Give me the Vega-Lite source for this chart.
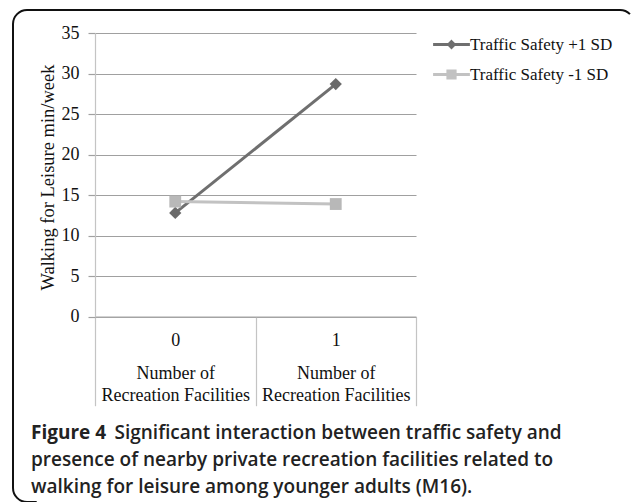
{
  "$schema": "https://vega.github.io/schema/vega-lite/v6.json",
  "autosize": {"type": "none"},
  "padding": {"left": 13, "top": 10, "right": 0, "bottom": 0},
  "width": 621,
  "height": 492,
  "background": "white",
  "view": {"stroke": "#111111", "strokeWidth": 2, "cornerRadius": 14, "fill": "white", "strokeDash": [604, 1080, 560]},
  "config": {
    "font": "Liberation Serif",
    "axis": {"labelFont": "Liberation Serif", "titleFont": "Liberation Serif", "labelColor": "#111111", "titleColor": "#111111", "titleFontWeight": "normal"},
    "legend": {"labelFont": "Liberation Serif", "labelFontSize": 17, "labelColor": "#111111"}
  },
  "title": {
    "text": "Figure 4",
    "subtitle": ["presence of nearby private recreation facilities related to", "walking for leisure among younger adults (M16)."],
    "orient": "top",
    "anchor": "start",
    "frame": "group",
    "font": "Open Sans",
    "fontSize": 19,
    "fontWeight": "bold",
    "color": "#222222",
    "subtitleFont": "Open Sans",
    "subtitleFontSize": 19,
    "subtitleFontWeight": 600,
    "subtitleColor": "#222222",
    "subtitleLineHeight": 27,
    "subtitlePadding": 8,
    "offset": 0,
    "dx": 18,
    "dy": 487
  },
  "data": {
    "values": [
      {"facilities": "0", "walking": 12.8, "series": "Traffic Safety +1 SD"},
      {"facilities": "1", "walking": 28.7, "series": "Traffic Safety +1 SD"},
      {"facilities": "0", "walking": 14.2, "series": "Traffic Safety -1 SD"},
      {"facilities": "1", "walking": 13.9, "series": "Traffic Safety -1 SD"}
    ]
  },
  "encoding": {
    "x": {
      "field": "facilities",
      "type": "nominal",
      "scale": {"type": "band", "domain": ["0", "1"], "range": [82, 403], "paddingInner": 0, "paddingOuter": 0},
      "axis": {
        "title": "Significant interaction between traffic safety and",
        "titleFont": "Open Sans",
        "titleFontSize": 19,
        "titleFontWeight": 600,
        "titleColor": "#222222",
        "titleAlign": "left",
        "titleAnchor": "start",
        "titleBaseline": "middle",
        "titleX": 101,
        "titleY": 115.3,
        "orient": "bottom",
        "offset": -185.3,
        "grid": false,
        "tickBand": "extent",
        "tickSize": 89,
        "tickColor": "#c4c4c4",
        "tickWidth": 1.2,
        "domainColor": "#a6a6a6",
        "domainWidth": 1.2,
        "labelAngle": 0,
        "labelFontSize": 18,
        "labelLineHeight": 11,
        "labelBaseline": "top",
        "labelPadding": -74,
        "labelExpr": "datum.label ? [datum.label, '\u200b', '\u200b', 'Number of', '\u200b', 'Recreation Facilities'] : ''"
      }
    },
    "y": {
      "field": "walking",
      "type": "quantitative",
      "scale": {"domain": [0, 35], "range": [306.7, 23], "nice": false, "zero": true},
      "axis": {
        "title": "Walking for Leisure min/week",
        "titleFontSize": 18.5,
        "titleX": -48,
        "titleY": 167,
        "titleBaseline": "middle",
        "offset": -82,
        "values": [0, 5, 10, 15, 20, 25, 30, 35],
        "grid": true,
        "gridColor": "#a0a0a0",
        "gridWidth": 1.2,
        "tickSize": 7,
        "tickColor": "#a0a0a0",
        "tickWidth": 1.2,
        "domainColor": "#c4c4c4",
        "domainWidth": 1.2,
        "labelFontSize": 18,
        "labelPadding": 9
      }
    }
  },
  "layer": [
    {
      "transform": [{"filter": "datum.series === 'Traffic Safety +1 SD'"}],
      "mark": {"type": "line", "strokeWidth": 3, "color": "#6f6f6f"}
    },
    {
      "transform": [{"filter": "datum.series === 'Traffic Safety +1 SD'"}],
      "mark": {"type": "point", "shape": "diamond", "filled": true, "size": 150, "color": "#6a6a6a", "opacity": 1}
    },
    {
      "transform": [{"filter": "datum.series === 'Traffic Safety -1 SD'"}],
      "mark": {"type": "line", "strokeWidth": 3, "color": "#c2c2c2"}
    },
    {
      "transform": [{"filter": "datum.series === 'Traffic Safety -1 SD'"}],
      "mark": {"type": "point", "shape": "square", "filled": true, "size": 140, "color": "#b8b8b8", "opacity": 1}
    },
    {
      "transform": [{"filter": "false"}],
      "mark": {"type": "point", "filled": true, "strokeWidth": 3},
      "encoding": {
        "shape": {
          "field": "series", "type": "nominal", "title": null,
          "scale": {"domain": ["Traffic Safety +1 SD", "Traffic Safety -1 SD"], "range": ["M-2.3,0L2.3,0M0,-0.35L0.35,0L0,0.35L-0.35,0Z", "M-2.3,0L2.3,0M-0.45,-0.45L0.45,-0.45L0.45,0.45L-0.45,0.45Z"]},
          "legend": {"orient": "none", "legendX": 429, "legendY": 25, "symbolSize": 256, "symbolStrokeWidth": 3, "symbolOpacity": 1, "rowPadding": 10, "labelOffset": 9, "padding": 0}
        },
        "fill": {
          "field": "series", "type": "nominal", "title": null,
          "scale": {"domain": ["Traffic Safety +1 SD", "Traffic Safety -1 SD"], "range": ["#6f6f6f", "#c2c2c2"]},
          "legend": {"orient": "none", "legendX": 429, "legendY": 25, "symbolSize": 256, "symbolStrokeWidth": 3, "symbolOpacity": 1, "rowPadding": 10, "labelOffset": 9, "padding": 0}
        },
        "stroke": {
          "field": "series", "type": "nominal", "title": null,
          "scale": {"domain": ["Traffic Safety +1 SD", "Traffic Safety -1 SD"], "range": ["#6f6f6f", "#c2c2c2"]},
          "legend": {"orient": "none", "legendX": 429, "legendY": 25, "symbolSize": 256, "symbolStrokeWidth": 3, "symbolOpacity": 1, "rowPadding": 10, "labelOffset": 9, "padding": 0}
        }
      }
    }
  ]
}
